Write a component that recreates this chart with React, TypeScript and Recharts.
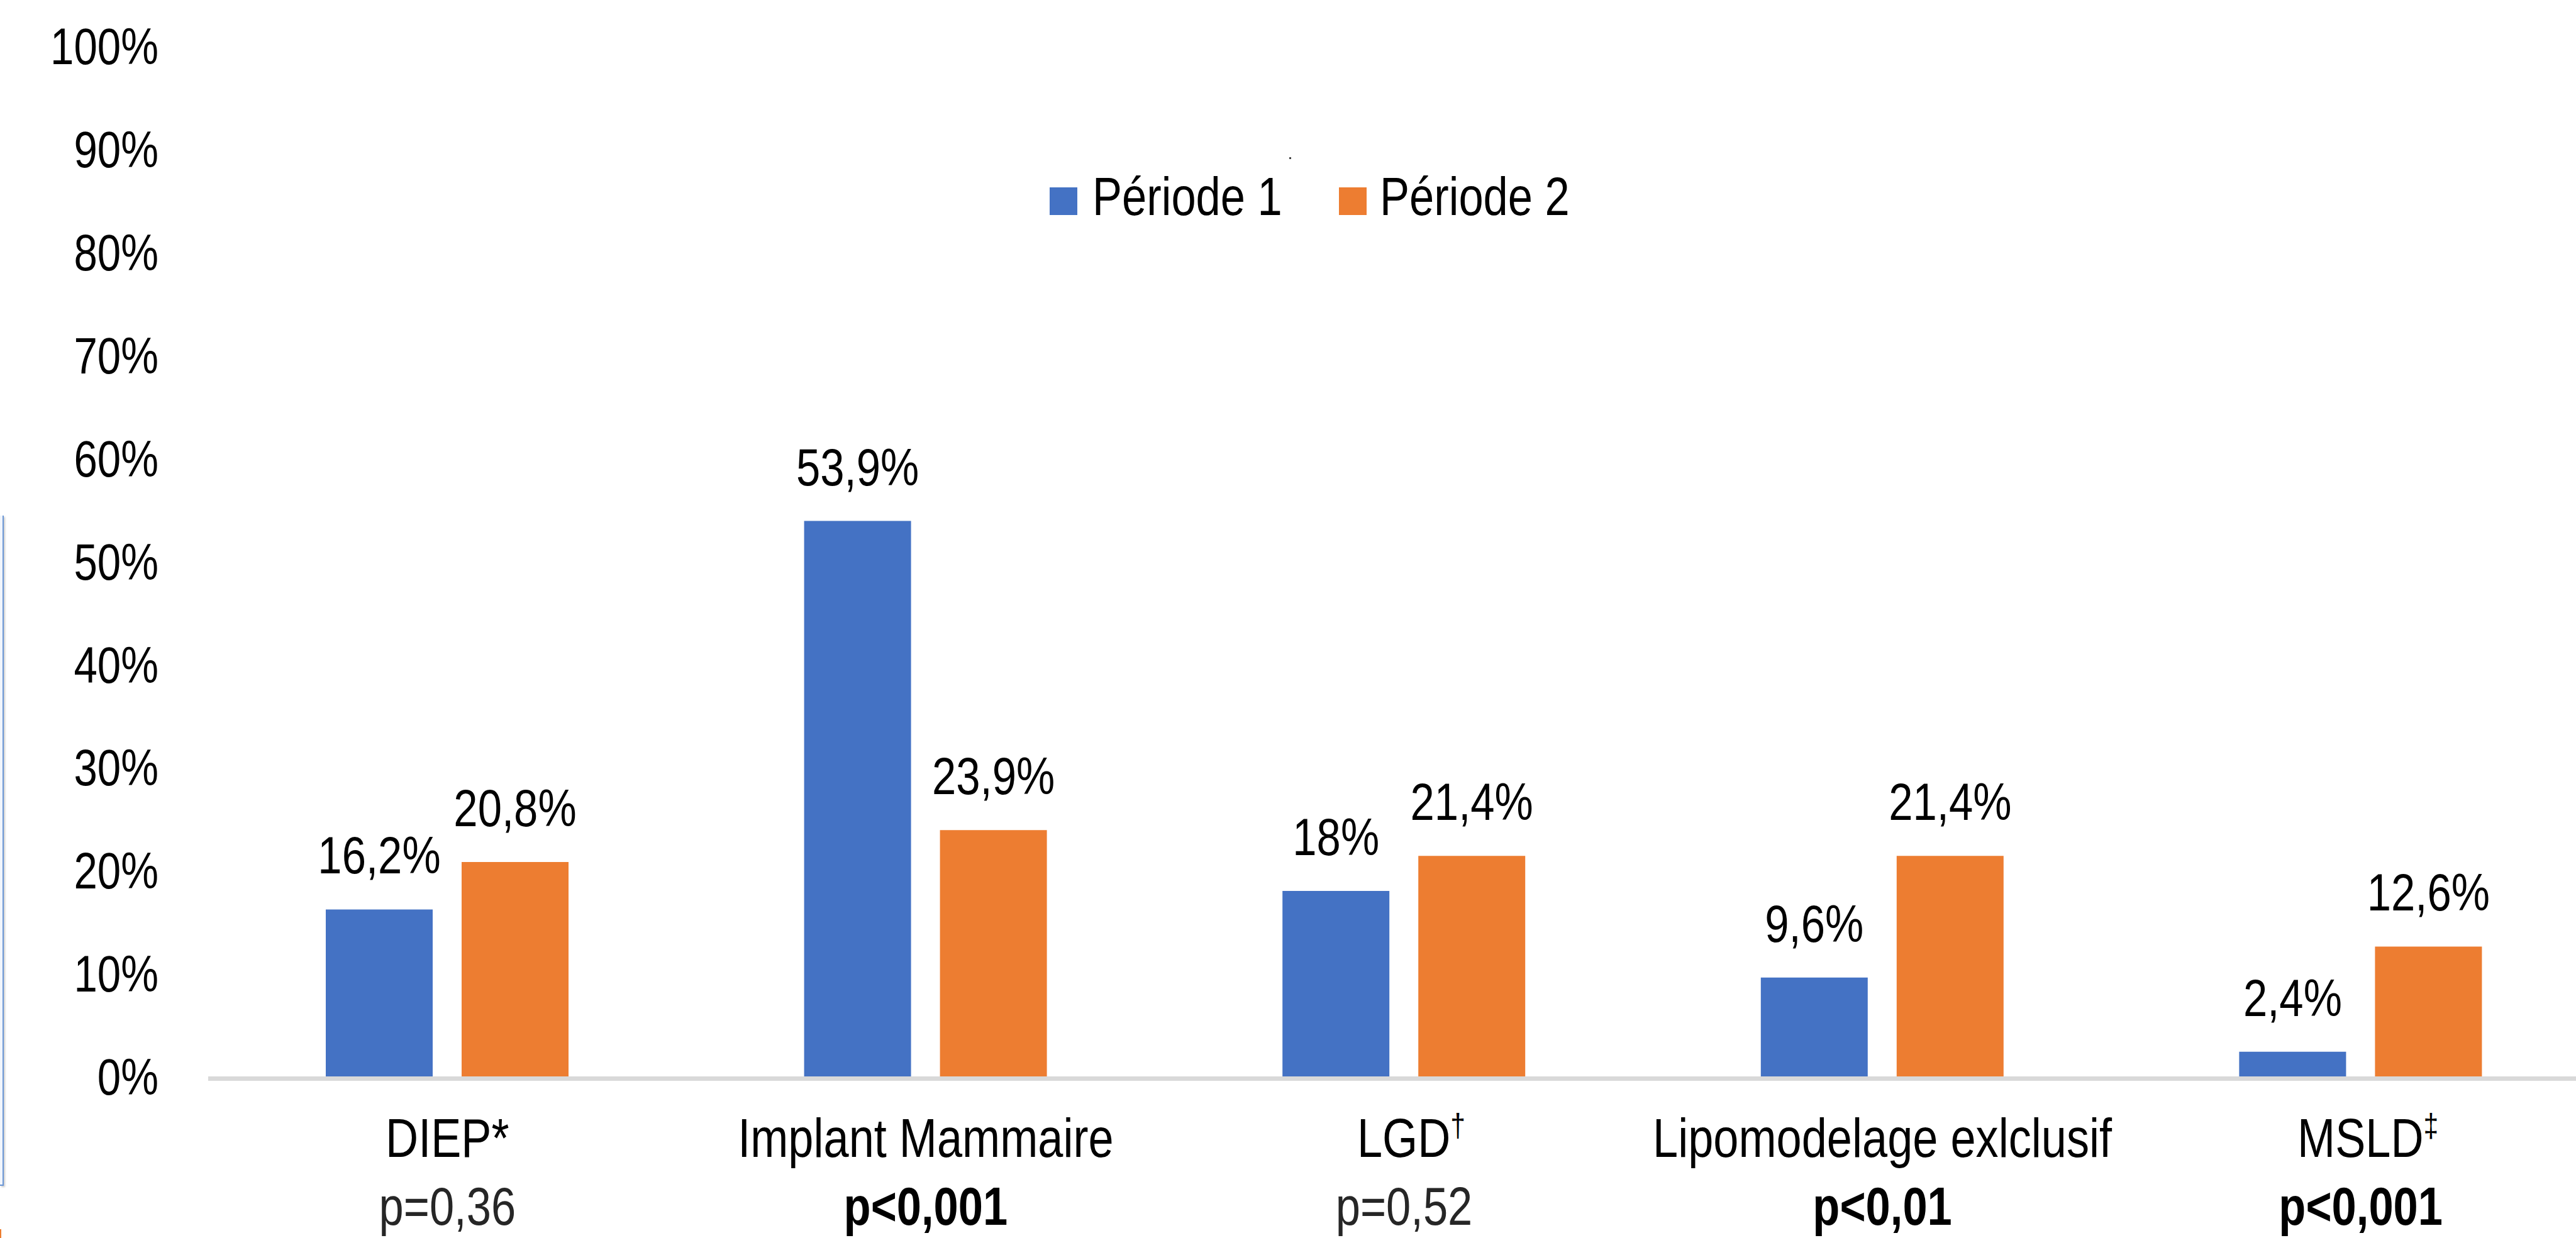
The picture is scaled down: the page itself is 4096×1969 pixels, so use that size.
import { Bar, BarChart, LabelList, Legend, XAxis, YAxis } from "recharts";

const categories = ["DIEP*", "Implant Mammaire", "LGD", "Lipomodelage exlclusif", "MSLD"];
const superscripts = ["", "", "†", "", "‡"];
const pValues = ["p=0,36", "p<0,001", "p=0,52", "p<0,01", "p<0,001"];
const pSignificant = [false, true, false, true, true];
const periode1 = [16.2, 53.9, 18, 9.6, 2.4];
const periode2 = [20.8, 23.9, 21.4, 21.4, 12.6];
const yTicks = [0, 10, 20, 30, 40, 50, 60, 70, 80, 90, 100];

const BLUE = "#4472C4";
const ORANGE = "#ED7D31";
const FONT = "'Liberation Sans', Arial, sans-serif";
// the original uses a condensed face; squeeze Liberation Sans horizontally
const SQUEEZE = 0.82;

const chartData = categories.map((name, i) => ({
  name,
  p1: periode1[i],
  p2: periode2[i],
}));

const formatPct = (v: number | string) => `${String(v).replace(".", ",")}%`;

const YTick = (props: any) => {
  const { x, y, payload } = props;
  return (
    <g transform={`translate(${x},${y}) scale(${SQUEEZE},1)`}>
      <text textAnchor="end" dy="0.355em" fontSize={82} fill="#000" fontFamily={FONT}>
        {`${payload.value}%`}
      </text>
    </g>
  );
};

const BarValue = (props: any) => {
  const { x, y, width, value } = props;
  return (
    <g transform={`translate(${x + width / 2},${y - 57}) scale(${SQUEEZE},1)`}>
      <text textAnchor="middle" fontSize={84} fill="#000" fontFamily={FONT}>
        {formatPct(value)}
      </text>
    </g>
  );
};

const CategoryTick = (props: any) => {
  const { x, y, payload } = props;
  const i = payload.index;
  const sup = superscripts[i];
  const bold = pSignificant[i];
  return (
    <g transform={`translate(${x},${y}) scale(${SQUEEZE},1)`} fontFamily={FONT}>
      <text x={sup ? 14 : 0} y={128} textAnchor="middle" fontSize={88} fill="#000">
        {categories[i]}
        {sup && (
          <tspan fontSize={52} dy={-32}>
            {sup}
          </tspan>
        )}
      </text>
      <text
        x={0}
        y={236}
        textAnchor="middle"
        fontSize={86}
        fontWeight={bold ? 700 : 400}
        fill={bold ? "#000" : "#262626"}
      >
        {pValues[i]}
      </text>
    </g>
  );
};

const LegendContent = (props: any) => {
  const items = props.payload || [];
  return (
    <svg width={900} height={110} style={{ display: "block", overflow: "visible" }}>
      {items.map((item: any, i: number) => (
        <g key={i} transform={`translate(${i * 460},0)`}>
          <rect x={0} y={38} width={44} height={44} fill={item.color} />
          <g transform={`translate(${i === 0 ? 68 : 65},82) scale(${SQUEEZE},1)`}>
            <text fontSize={86} fill="#000" fontFamily={FONT}>
              {item.value}
            </text>
          </g>
        </g>
      ))}
    </svg>
  );
};

export default function App() {
  return (
    <div
      style={{
        position: "fixed",
        left: 0,
        top: 0,
        width: 4096,
        height: 1969,
        overflow: "hidden",
        background: "#fff",
        fontFamily: FONT,
      }}
    >
      {/* stray box edge on the left of the original screenshot */}
      <div
        style={{
          position: "absolute",
          left: 0,
          top: 820,
          width: 4,
          height: 1064,
          background: "#F2F6FC",
          borderRight: "2px solid #6A96D6",
          borderBottom: "2px solid #6A96D6",
          boxShadow: "2px 2px 3px rgba(0,0,0,0.2)",
        }}
      />
      <div style={{ position: "absolute", left: 0, top: 1955, width: 2, height: 14, background: ORANGE }} />
      <div style={{ position: "absolute", left: 2050, top: 250, width: 3, height: 3, background: "#444" }} />

      <BarChart
        width={4134}
        height={1969}
        data={chartData}
        margin={{ top: 73, right: 0, bottom: 0, left: 0 }}
        barCategoryGap={186}
        barGap={46}
      >
        <XAxis
          dataKey="name"
          height={257}
          interval={0}
          tickLine={false}
          tickSize={0}
          tickMargin={0}
          axisLine={{ stroke: "#D9D9D9", strokeWidth: 7, transform: "translate(0,3.5)" }}
          tick={<CategoryTick />}
        />
        <YAxis
          width={331}
          domain={[0, 100]}
          ticks={yTicks}
          interval={0}
          axisLine={false}
          tickLine={false}
          tickSize={0}
          tickMargin={79}
          tick={<YTick />}
        />
        <Legend
          layout="horizontal"
          verticalAlign="middle"
          align="center"
          content={<LegendContent />}
          wrapperStyle={{ top: 260, left: 1669, width: "auto", height: "auto" }}
        />
        <Bar dataKey="p1" name="Période 1" fill={BLUE} barSize={170} isAnimationActive={false}>
          <LabelList dataKey="p1" content={<BarValue />} />
        </Bar>
        <Bar dataKey="p2" name="Période 2" fill={ORANGE} barSize={170} isAnimationActive={false}>
          <LabelList dataKey="p2" content={<BarValue />} />
        </Bar>
      </BarChart>
    </div>
  );
}
